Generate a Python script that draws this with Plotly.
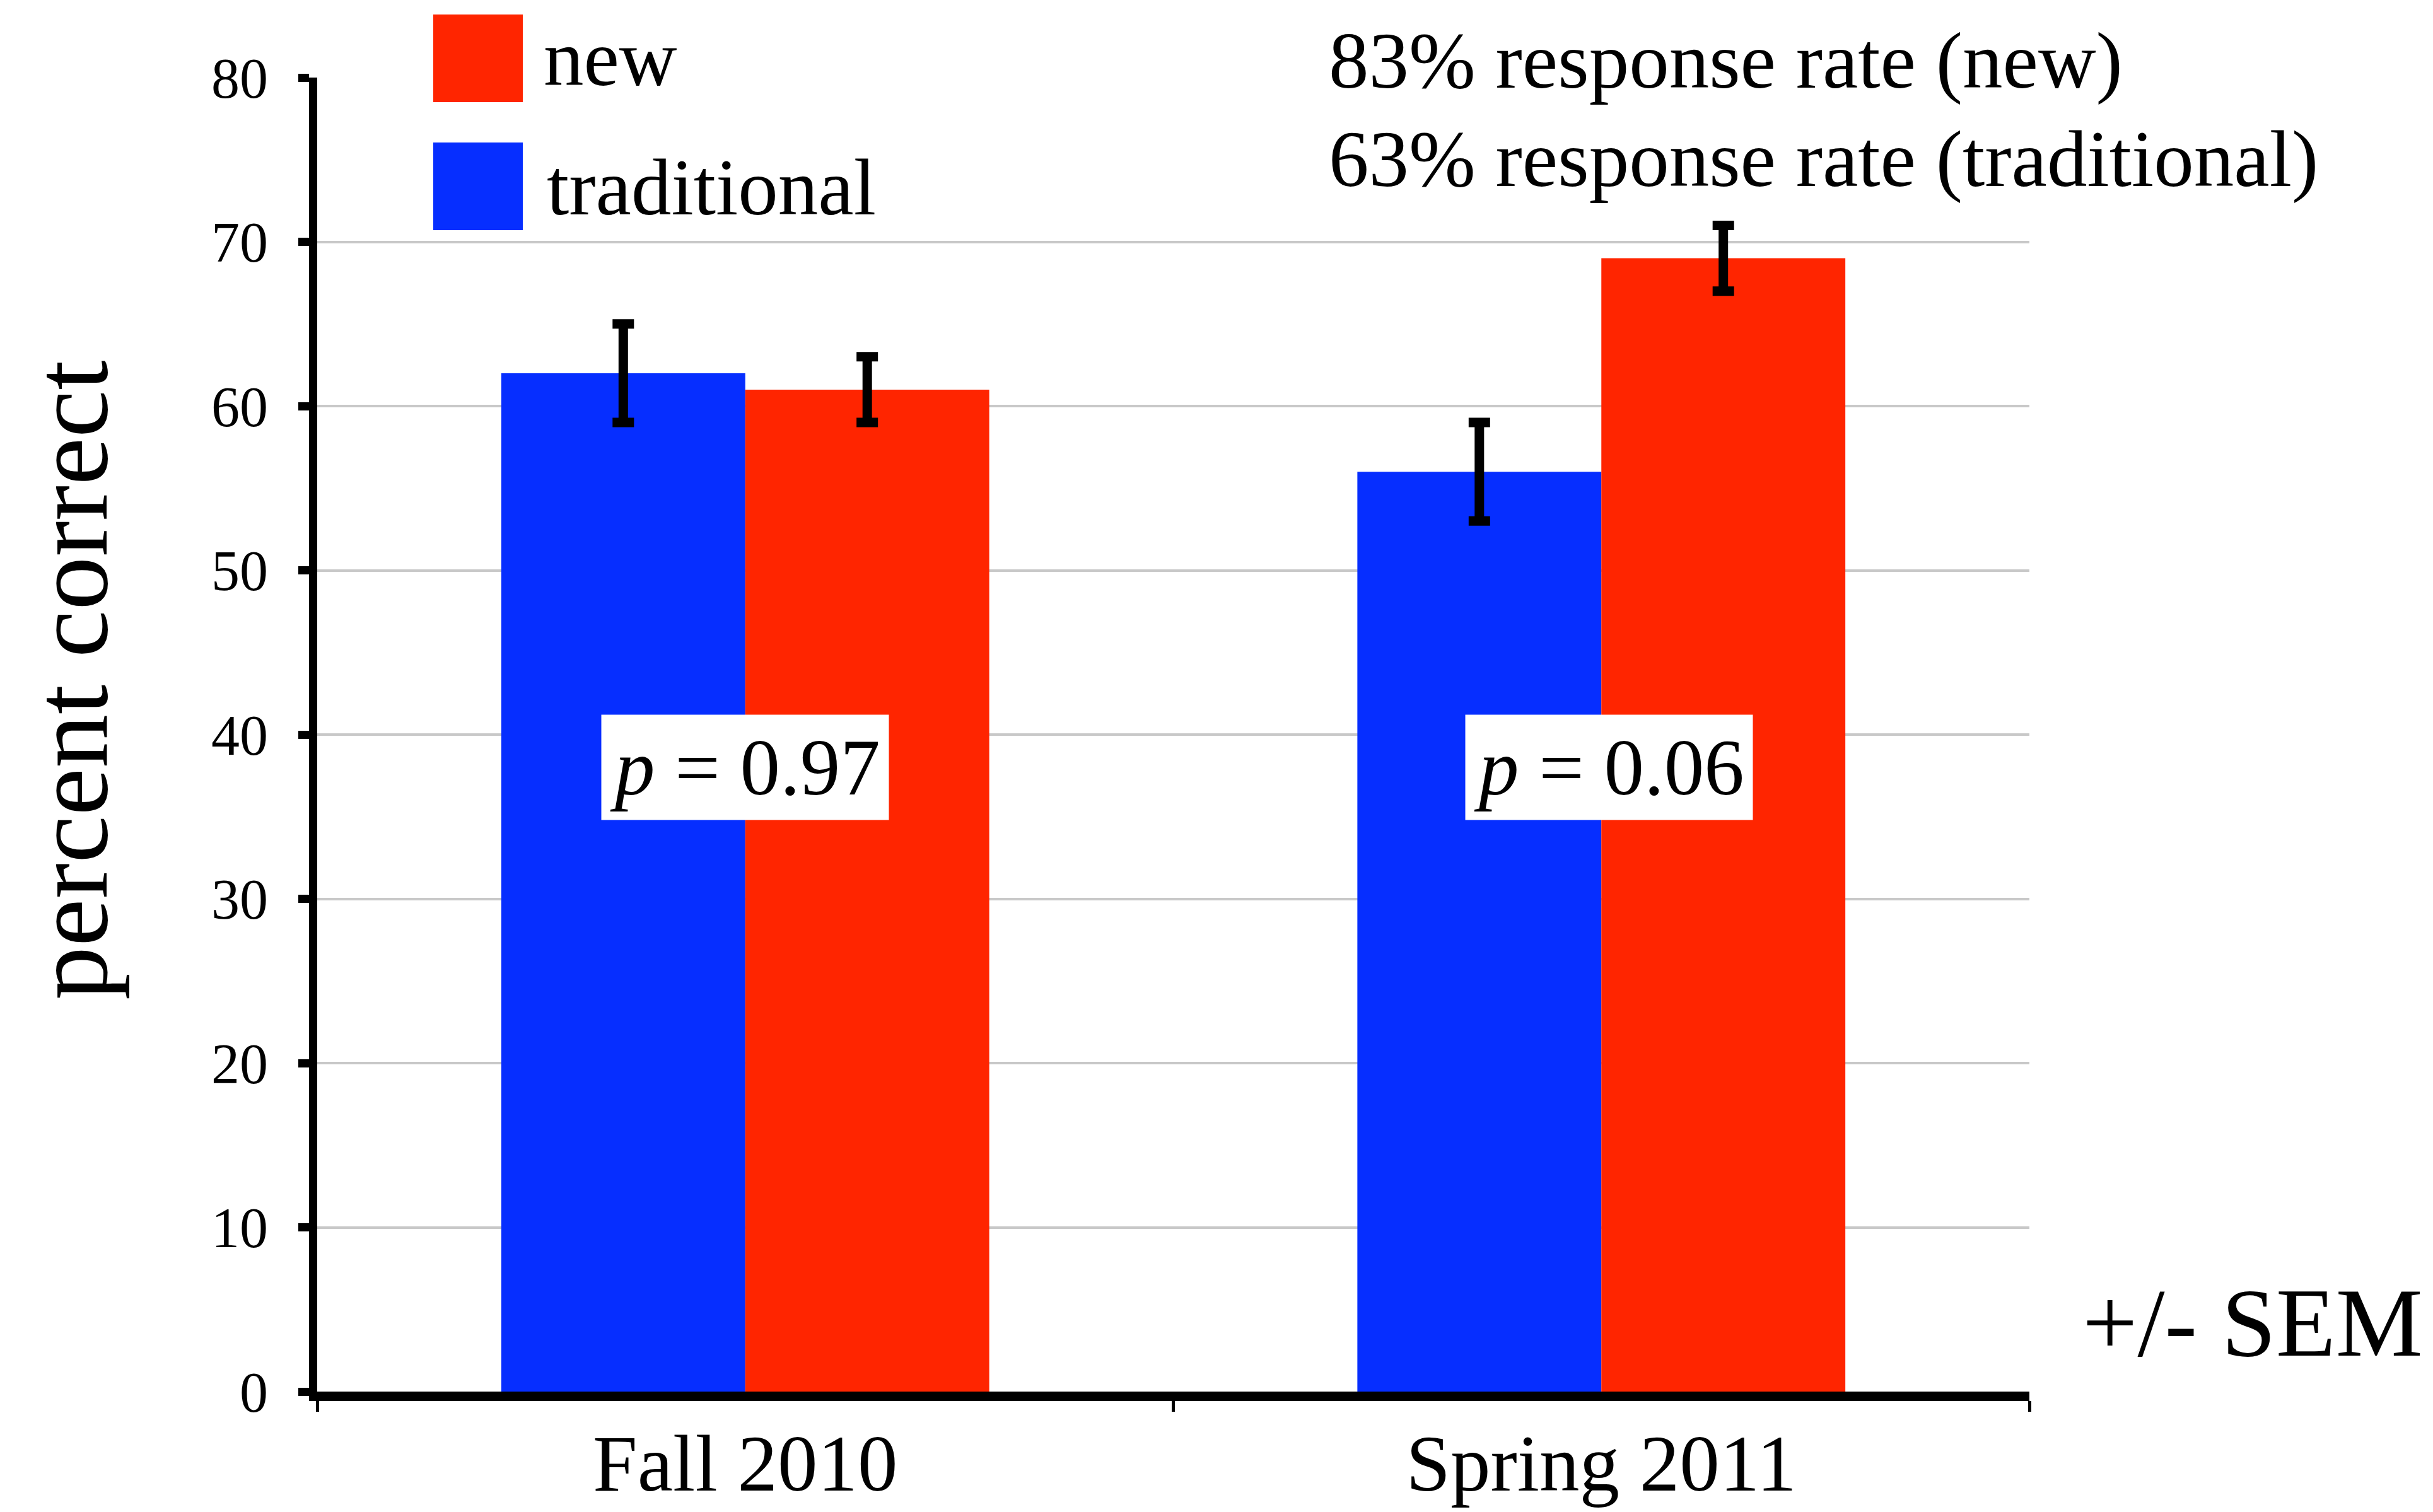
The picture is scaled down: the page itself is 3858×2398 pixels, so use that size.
import plotly.graph_objects as go

# ---- data ----
categories = ["Fall 2010", "Spring 2011"]
traditional_values = [62, 56]
traditional_sem = [3, 3]
new_values = [61, 69]
new_sem = [2, 2]
p_labels = ["<i>p</i> = 0.97", "<i>p</i> = 0.06"]
p_label_y = [38, 38]
y_ticks = [0, 10, 20, 30, 40, 50, 60, 70, 80]
response_lines = ["83% response rate (new)", "63% response rate (traditional)"]

# ---- geometry (screen pixels) ----
W, H = 3858, 2398
OFF = 8  # default html body margin
L, T = 503, 123
R_EDGE, B_EDGE = 3218, 2207
PW, PH = R_EDGE - L, B_EDGE - T
FIG_W, FIG_H = W - OFF, H - OFF


def px(x):
    return (x - L) / PW


def py(y):
    return (B_EDGE - y) / PH


FONT = "Liberation Serif, Times New Roman, serif"
BLUE = "#062EFF"
RED = "#FF2500"

fig = go.Figure()
fig.add_trace(go.Bar(
    x=categories, y=traditional_values, name="traditional",
    marker=dict(color=BLUE, line=dict(width=0)),
    error_y=dict(type="data", array=traditional_sem, visible=True,
                 color="black", thickness=15, width=17),
))
fig.add_trace(go.Bar(
    x=categories, y=new_values, name="new",
    marker=dict(color=RED, line=dict(width=0)),
    error_y=dict(type="data", array=new_sem, visible=True,
                 color="black", thickness=15, width=17),
))

shapes = []
annotations = []

# legend background (hides top gridline behind legend)
shapes.append(dict(type="rect", xref="paper", yref="paper",
                   x0=px(686), x1=px(1189), y0=py(200), y1=py(15),
                   fillcolor="white", line=dict(width=0), layer="above"))
# legend swatches
shapes.append(dict(type="rect", xref="paper", yref="paper",
                   x0=px(687), x1=px(829), y0=py(162), y1=py(23),
                   fillcolor=RED, line=dict(width=0), layer="above"))
shapes.append(dict(type="rect", xref="paper", yref="paper",
                   x0=px(687), x1=px(829), y0=py(365), y1=py(226),
                   fillcolor=BLUE, line=dict(width=0), layer="above"))
annotations.append(dict(text="new", xref="paper", yref="paper",
                        x=px(860), y=py(92), xanchor="left", yanchor="middle",
                        showarrow=False, font=dict(family=FONT, size=127, color="black")))
annotations.append(dict(text="traditional", xref="paper", yref="paper",
                        x=px(865), y=py(297), xanchor="left", yanchor="middle",
                        showarrow=False, font=dict(family=FONT, size=127, color="black")))

# response rate notes
for line, yc in zip(response_lines, [97, 252]):
    annotations.append(dict(text=line, xref="paper", yref="paper",
                            x=px(2102), y=py(yc), xanchor="left", yanchor="middle",
                            showarrow=False, bgcolor="white", borderpad=4,
                            font=dict(family=FONT, size=127, color="black")))

# p-value labels
for cat, lab, yv, xs in zip(categories, p_labels, p_label_y, [0, 12]):
    annotations.append(dict(text=lab, x=cat, y=yv, xref="x", yref="y",
                            xshift=xs, showarrow=False, bgcolor="white",
                            borderpad=13, font=dict(family=FONT, size=127, color="black")))

# y-axis title
annotations.append(dict(text="percent correct", xref="paper", yref="paper",
                        x=px(112), y=py(1079), xanchor="center", yanchor="middle",
                        textangle=-90, showarrow=False,
                        font=dict(family=FONT, size=170, color="black")))

# +/- SEM
annotations.append(dict(text="+/- SEM", xref="paper", yref="paper",
                        x=px(3300), y=py(2098), xanchor="left", yanchor="middle",
                        showarrow=False, font=dict(family=FONT, size=155, color="black")))

fig.update_layout(
    width=FIG_W, height=FIG_H,
    margin=dict(l=L - OFF, r=FIG_W - (R_EDGE - OFF), t=T - OFF,
                b=FIG_H - (B_EDGE - OFF), autoexpand=False),
    paper_bgcolor="white", plot_bgcolor="white",
    barmode="group", bargap=0.43, bargroupgap=0,
    showlegend=False,
    shapes=shapes, annotations=annotations,
    font=dict(family=FONT, color="black"),
)
fig.update_xaxes(
    type="category", categoryorder="array", categoryarray=categories,
    showline=True, linecolor="black", linewidth=15,
    ticks="outside", tickson="boundaries", ticklen=17, tickwidth=5, tickcolor="black",
    tickfont=dict(family=FONT, size=127, color="black"),
    ticklabelstandoff=-10, showgrid=False, zeroline=False,
)
fig.update_yaxes(
    range=[0, 80], tickvals=y_ticks,
    showline=True, linecolor="black", linewidth=13,
    ticks="outside", ticklen=17, tickwidth=13, tickcolor="black",
    tickfont=dict(family=FONT, size=90, color="black"),
    ticklabelstandoff=30,
    showgrid=True, gridcolor="#c8c8c8", gridwidth=4, zeroline=False,
)

fig.write_html("out.html")
